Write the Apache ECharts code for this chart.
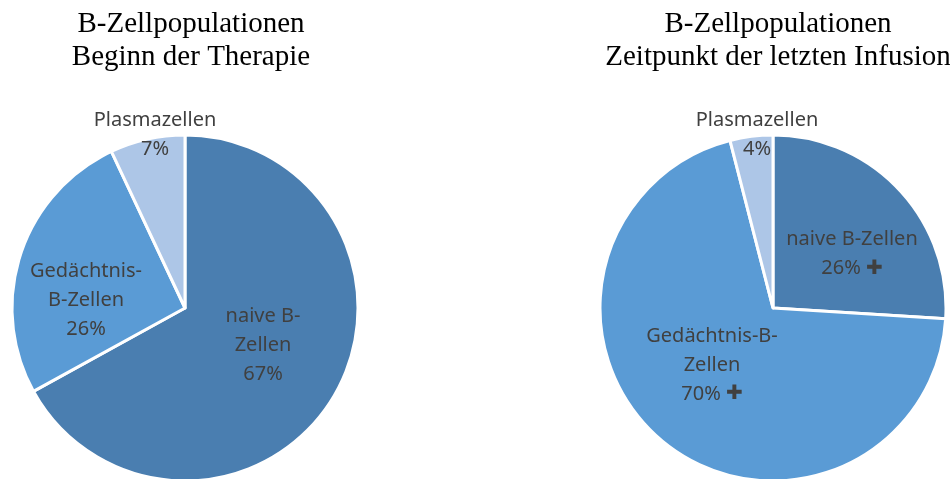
<!DOCTYPE html>
<html lang="de">
<head>
    <meta http-equiv="Content-Type" content="text/html;charset=utf-8">
    <script type="text/javascript" src="https://cdn.jsdelivr.net/npm/echarts@6/dist/echarts.min.js"></script>
    <title>B-Zellpopulationen</title>
    <style>
        html, body { margin: 0; padding: 0; background: #fff; }
        #main { width: 950px; height: 479px; }
    </style>
</head>
<body>
<div id="main"></div>
<script>
    // Daten
    var categories = ['naive B-Zellen', 'Gedächtnis-B-Zellen', 'Plasmazellen'];
    var beginValues = [67, 26, 7];
    var letzteValues = [26, 70, 4];
    var titleBegin = 'B-Zellpopulationen\nBeginn der Therapie';
    var titleLetzte = 'B-Zellpopulationen\nZeitpunkt der letzten Infusion';
    // Beschriftung wie im Original umbrochen
    var beginLabels = ['naive B-\nZellen\n67%', 'Gedächtnis-\nB-Zellen\n26%', 'Plasmazellen\n7%'];
    var letzteLabels = ['naive B-Zellen\n26% {x|✚}', 'Gedächtnis-B-\nZellen\n70% {x|✚}', 'Plasmazellen\n4%'];

    var colors = ['#4a7eb0', '#5a9bd5', '#adc6e7'];
    // Mittelpunkte der Beschriftungen (Pixel)
    var beginLabelPos = [[263, 345], [86, 300], [155, 135]];
    var letzteLabelPos = [[852, 254], [712, 365], [757, 135]];

    var myChart = echarts.init(document.getElementById('main'), null, {renderer: 'canvas'});

    function pie(values, labels, pos, center) {
        return {
            type: 'pie',
            center: center,
            radius: 173,
            startAngle: 90,
            clockwise: true,
            silent: true,
            itemStyle: {
                borderColor: '#fff',
                borderWidth: 3
            },
            label: {
                show: true,
                position: 'inside',
                color: '#404040',
                fontFamily: 'Noto Sans',
                fontSize: 20,
                lineHeight: 29,
                rich: {
                    x: {color: '#404040', fontFamily: 'DejaVu Sans', fontSize: 20, lineHeight: 29}
                },
                formatter: function (params) {
                    return labels[params.dataIndex];
                }
            },
            labelLine: {show: false},
            labelLayout: function (params) {
                var p = pos[params.dataIndex];
                return {x: p[0], y: p[1], align: 'center', verticalAlign: 'middle'};
            },
            data: categories.map(function (name, i) {
                return {name: name, value: values[i], itemStyle: {color: colors[i]}};
            })
        };
    }

    var titleStyle = {
        fontFamily: 'Liberation Serif',
        fontWeight: 'normal',
        fontSize: 29,
        lineHeight: 33,
        color: '#000'
    };

    var option = {
        backgroundColor: '#fff',
        animation: false,
        title: [{
            text: titleBegin,
            left: 186,
            top: 3,
            textAlign: 'center',
            textStyle: titleStyle
        }, {
            text: titleLetzte,
            left: 773,
            top: 3,
            textAlign: 'center',
            textStyle: titleStyle
        }],
        series: [
            pie(beginValues, beginLabels, beginLabelPos, [185, 308]),
            pie(letzteValues, letzteLabels, letzteLabelPos, [773, 308])
        ]
    };
    myChart.setOption(option);
</script>
</body>
</html>
